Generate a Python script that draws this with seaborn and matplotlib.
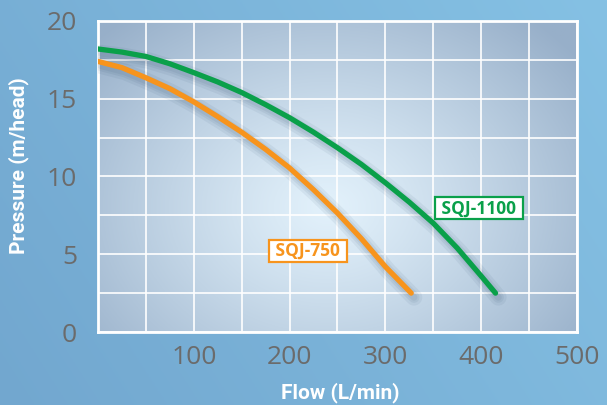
import numpy as np
import pandas as pd
import matplotlib
matplotlib.use("Agg")
import matplotlib.pyplot as plt
import matplotlib.patheffects as pe
from matplotlib.colors import to_rgb
import seaborn as sns

# valores
flow_1100 = [0, 25, 50, 75, 100, 125, 150, 175, 200, 225, 250, 275, 300, 325, 350, 375, 400, 415]
head_1100 = [18.2, 18.0, 17.72, 17.25, 16.68, 16.08, 15.4, 14.62, 13.78, 12.85, 11.85, 10.78,
             9.6, 8.35, 7.0, 5.4, 3.6, 2.5]
flow_750 = [0, 25, 50, 75, 100, 125, 150, 175, 200, 225, 250, 275, 300, 327]
head_750 = [17.4, 17.0, 16.35, 15.65, 14.8, 13.85, 12.85, 11.75, 10.55, 9.15, 7.65, 6.0, 4.2, 2.5]

models = ["SQJ-1100", "SQJ-750"]
colors = {"SQJ-1100": "#0aa04a", "SQJ-750": "#f7941d"}
xticks = [100, 200, 300, 400, 500]
yticks = [0, 5, 10, 15, 20]

df = pd.concat([
    pd.DataFrame({"flow": flow_1100, "head": head_1100, "model": "SQJ-1100"}),
    pd.DataFrame({"flow": flow_750, "head": head_750, "model": "SQJ-750"}),
])

sns.set_style("white")
plt.rcParams["font.family"] = ["Open Sans", "DejaVu Sans"]

fig = plt.figure(figsize=(6.07, 4.05), dpi=100)

# fundo azul em degradê
bg = fig.add_axes([0, 0, 1, 1], zorder=-10)
u, v = np.meshgrid(np.linspace(0, 1, 200), np.linspace(0, 1, 200))
c_left = np.array(to_rgb("#72a7cf"))
c_right = np.array(to_rgb("#85c1e4"))
t = (0.7 * u + 0.3 * (1 - v))[..., None]
bg.imshow(c_left * (1 - t) + c_right * t, extent=[0, 1, 0, 1], aspect="auto", origin="upper")
bg.axis("off")

ax = fig.add_axes([0.1614, 0.1802, 0.7891, 0.768])

# degradê radial da área do gráfico
uu, vv = np.meshgrid(np.linspace(0, 1, 300), np.linspace(0, 1, 300))
d = np.sqrt(((uu - 0.48) / 0.66) ** 2 + ((vv - 0.40) / 0.8) ** 2)
d = np.clip(d, 0, 1)[..., None] ** 1.2
c_in = np.array(to_rgb("#e2f1fb"))
c_out = np.array(to_rgb("#97afc9"))
ax.imshow(c_in * (1 - d) + c_out * d, extent=[0, 500, 0, 20], aspect="auto",
          origin="lower", zorder=0)

sns.lineplot(data=df, x="flow", y="head", hue="model", palette=colors, ax=ax,
             linewidth=3.8, legend=False, zorder=5)
for line in ax.get_lines():
    line.set_solid_capstyle("round")
    line.set_path_effects([
        pe.SimpleLineShadow(offset=(2, -3), shadow_color="#2f4d6b", alpha=0.07, linewidth=12),
        pe.SimpleLineShadow(offset=(2, -3), shadow_color="#2f4d6b", alpha=0.08, linewidth=8),
        pe.SimpleLineShadow(offset=(2, -3), shadow_color="#2f4d6b", alpha=0.08, linewidth=5),
        pe.Normal(),
    ])

ax.set_xlim(0, 500)
ax.set_ylim(0, 20)
ax.set_xticks(xticks)
ax.set_yticks(yticks)
ax.set_xticks(np.arange(0, 501, 50), minor=True)
ax.set_yticks(np.arange(0, 20.1, 2.5), minor=True)
ax.grid(which="both", color="white", linewidth=1.2)
for gl in ax.get_xgridlines() + ax.get_ygridlines():
    gl.set_zorder(1)
ax.tick_params(which="both", length=0, labelsize=19, labelcolor="#6b6b6b")
ax.tick_params(axis="x", pad=9)
ax.tick_params(axis="y", pad=15)
for s in ax.spines.values():
    s.set_color("white")
    s.set_linewidth(2)

lab = dict(color="white", fontweight="bold", fontsize=15, family=["Roboto", "DejaVu Sans"])
ax.set_xlabel("Flow (L/min)", **lab)
ax.set_ylabel("Pressure (m/head)", **lab)
ax.xaxis.set_label_coords(0.505, -0.162)
ax.yaxis.set_label_coords(-0.145, 0.534)

# rótulos das curvas
box = dict(boxstyle="square,pad=0.12", fc="white", lw=1.6)
ax.text(398, 7.95, " SQJ-1100 ", color=colors["SQJ-1100"], fontsize=12.5, fontweight="bold",
        ha="center", va="center", zorder=6, bbox=dict(box, ec=colors["SQJ-1100"]))
ax.text(219, 5.2, " SQJ-750 ", color=colors["SQJ-750"], fontsize=12.5, fontweight="bold",
        ha="center", va="center", zorder=6, bbox=dict(box, ec=colors["SQJ-750"]))

plt.savefig("out.png", dpi=100)
